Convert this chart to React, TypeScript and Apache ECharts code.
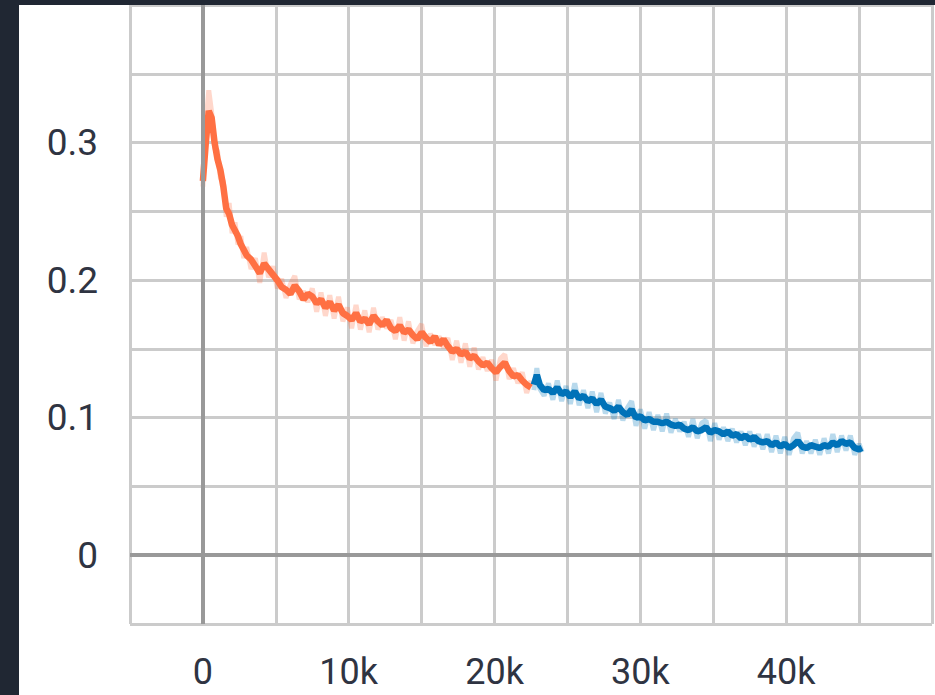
import React, { useEffect, useRef } from "react";
import * as echarts from "echarts";

const orangeSteps = [
  0, 200, 400, 600, 800, 1000, 1200, 1400, 1600, 1800, 2000, 2200, 2400, 2600, 2800, 3000,
  3300, 3600, 3900, 4200, 4500, 4800, 5100, 5400, 5700, 6000,
  6300, 6600, 6900, 7200, 7500, 7800, 8100, 8400, 8700, 9000,
  9300, 9600, 9900, 10200, 10500, 10800, 11100, 11400, 11700, 12000,
  12300, 12600, 12900, 13200, 13500, 13800, 14100, 14400, 14700, 15000,
  15300, 15600, 15900, 16200, 16500, 16800, 17100, 17400, 17700, 18000,
  18300, 18600, 18900, 19200, 19500, 19800, 20100, 20400, 20700, 21000,
  21300, 21600, 21900, 22200, 22500,
];
const orangeSmoothed = [
  0.272, 0.300, 0.323, 0.318, 0.300, 0.288, 0.280, 0.268, 0.252, 0.248, 0.240, 0.236, 0.232, 0.226, 0.222, 0.218,
  0.215, 0.210, 0.205, 0.212, 0.208, 0.204, 0.200, 0.195, 0.193, 0.190,
  0.196, 0.192, 0.186, 0.190, 0.188, 0.183, 0.186, 0.180, 0.184, 0.178,
  0.182, 0.176, 0.174, 0.171, 0.176, 0.170, 0.172, 0.168, 0.174, 0.170,
  0.167, 0.171, 0.165, 0.163, 0.167, 0.162, 0.164, 0.160, 0.157, 0.162,
  0.158, 0.155, 0.159, 0.153, 0.157, 0.152, 0.148, 0.150, 0.146, 0.148,
  0.143, 0.145, 0.141, 0.138, 0.140, 0.136, 0.133, 0.137, 0.140, 0.134,
  0.130, 0.131, 0.127, 0.124, 0.122,
];
const orangeRaw = [
  0.268, 0.312, 0.338, 0.322, 0.296, 0.294, 0.274, 0.272, 0.246, 0.256, 0.234, 0.242, 0.226, 0.232, 0.216, 0.224,
  0.208, 0.216, 0.198, 0.220, 0.202, 0.210, 0.194, 0.201, 0.187, 0.197,
  0.203, 0.186, 0.192, 0.184, 0.194, 0.177, 0.191, 0.174, 0.189, 0.172,
  0.188, 0.170, 0.180, 0.165, 0.182, 0.164, 0.178, 0.162, 0.180, 0.164,
  0.173, 0.165, 0.171, 0.157, 0.173, 0.156, 0.170, 0.154, 0.163, 0.168,
  0.152, 0.161, 0.153, 0.159, 0.151, 0.158, 0.142, 0.156, 0.140, 0.154,
  0.137, 0.151, 0.135, 0.144, 0.134, 0.142, 0.127, 0.143, 0.146, 0.128,
  0.136, 0.125, 0.133, 0.118, 0.127,
];

const blueSteps = [
  22700, 22900, 23100,
  23400, 23700, 24000, 24300, 24600, 24900, 25200, 25500, 25800, 26100,
  26400, 26700, 27000, 27300, 27600, 27900, 28200, 28500, 28800, 29100,
  29400, 29700, 30000, 30300, 30600, 30900, 31200, 31500, 31800, 32100,
  32400, 32700, 33000, 33300, 33600, 33900, 34200, 34500, 34800, 35100,
  35400, 35700, 36000, 36300, 36600, 36900, 37200, 37500, 37800, 38100,
  38400, 38700, 39000, 39300, 39600, 39900, 40200, 40500, 40800, 41100,
  41400, 41700, 42000, 42300, 42600, 42900, 43200, 43500, 43800, 44100,
  44400, 44700, 45000, 45200,
];
const blueSmoothed = [
  0.124, 0.131, 0.124,
  0.120, 0.121, 0.118, 0.122, 0.117, 0.119, 0.115, 0.119, 0.114, 0.116,
  0.112, 0.114, 0.110, 0.113, 0.108, 0.107, 0.105, 0.108, 0.104, 0.102,
  0.106, 0.100, 0.101, 0.098, 0.099, 0.097, 0.097, 0.096, 0.097, 0.095,
  0.094, 0.095, 0.092, 0.091, 0.093, 0.090, 0.091, 0.093, 0.089, 0.091,
  0.090, 0.088, 0.090, 0.087, 0.088, 0.085, 0.087, 0.084, 0.086, 0.083,
  0.082, 0.083, 0.080, 0.082, 0.079, 0.081, 0.078, 0.080, 0.083, 0.079,
  0.078, 0.080, 0.079, 0.078, 0.080, 0.079, 0.082, 0.080, 0.083, 0.081,
  0.082, 0.078, 0.077, 0.078,
];
const blueRaw = [
  0.120, 0.136, 0.121,
  0.116, 0.125, 0.113, 0.127, 0.112, 0.123, 0.110, 0.125, 0.109, 0.120,
  0.107, 0.119, 0.104, 0.118, 0.103, 0.111, 0.099, 0.113, 0.098, 0.107,
  0.112, 0.094, 0.106, 0.092, 0.104, 0.091, 0.102, 0.090, 0.103, 0.089,
  0.099, 0.090, 0.097, 0.086, 0.099, 0.085, 0.096, 0.098, 0.083, 0.096,
  0.084, 0.093, 0.083, 0.092, 0.082, 0.090, 0.080, 0.090, 0.079, 0.088,
  0.077, 0.088, 0.075, 0.087, 0.074, 0.086, 0.073, 0.085, 0.089, 0.074,
  0.083, 0.074, 0.084, 0.073, 0.085, 0.074, 0.088, 0.075, 0.087, 0.076,
  0.087, 0.073, 0.081, 0.075,
];

const xLabelValues = [0, 10000, 20000, 30000, 40000];
const yLabelValues = [0, 0.1, 0.2, 0.3];

const zip = (xs: number[], ys: number[]) => xs.map((x, i) => [x, ys[i]]);

export default function App() {
  const ref = useRef<HTMLDivElement>(null);
  useEffect(() => {
    if (!ref.current) return;
    const chart = echarts.init(ref.current, undefined, { renderer: "svg" });
    const gridColor = "#cbcbcb";
    const labelStyle = {
      color: "#2f3442",
      fontFamily: "Roboto, 'Noto Sans', sans-serif",
      fontSize: 37,
    };
    chart.setOption({
      animation: false,
      grid: { left: 111, top: -1, width: 808, height: 620, containLabel: false },
      xAxis: {
        type: "value",
        min: -5000,
        max: 50000,
        interval: 5000,
        axisLine: { show: false },
        axisTick: { show: true, length: 17, lineStyle: { color: gridColor, width: 3 } },
        splitLine: { show: true, lineStyle: { color: gridColor, width: 3 } },
        axisLabel: {
          ...labelStyle,
          fontSize: 36,
          lineHeight: 32,
          margin: 32,
          showMinLabel: true,
          showMaxLabel: true,
          formatter: (v: number) =>
            xLabelValues.includes(Math.round(v)) ? (v === 0 ? "0" : `${Math.round(v / 1000)}k`) : "",
        },
      },
      yAxis: {
        type: "value",
        min: -0.05,
        max: 0.4,
        interval: 0.05,
        axisLine: { show: false },
        axisTick: { show: true, length: 17, lineStyle: { color: gridColor, width: 3 } },
        splitLine: { show: true, lineStyle: { color: gridColor, width: 3 } },
        axisLabel: {
          ...labelStyle,
          margin: 32,
          formatter: (v: number) => {
            const r = Math.round(v * 10) / 10;
            const hit = yLabelValues.some((y) => Math.abs(y - v) < 1e-6);
            return hit ? (r === 0 ? "0" : r.toFixed(1)) : "";
          },
        },
      },
      series: [
        {
          type: "line",
          data: [],
          z: 1,
          markLine: {
            silent: true,
            symbol: "none",
            label: { show: false },
            lineStyle: { color: "#999999", width: 4, type: "solid" },
            data: [{ xAxis: 0 }, { yAxis: 0 }],
          },
        },
        {
          type: "line",
          data: zip(orangeSteps, orangeRaw),
          showSymbol: false,
          z: 2,
          lineStyle: { color: "rgba(255,112,67,0.28)", width: 5 },
        },
        {
          type: "line",
          data: zip(blueSteps, blueRaw),
          showSymbol: false,
          z: 2,
          lineStyle: { color: "rgba(0,119,187,0.28)", width: 5 },
        },
        {
          type: "line",
          data: zip(orangeSteps, orangeSmoothed),
          showSymbol: false,
          z: 3,
          lineStyle: { color: "#ff7043", width: 6.5 },
        },
        {
          type: "line",
          data: zip(blueSteps, blueSmoothed),
          showSymbol: false,
          z: 3,
          lineStyle: { color: "#0072b8", width: 6.5 },
        },
      ],
    });
    return () => chart.dispose();
  }, []);
  return (
    <div
      style={{
        position: "fixed",
        left: 0,
        top: 0,
        width: 935,
        height: 695,
        background: "#202733",
        overflow: "hidden",
      }}
    >
      <div
        ref={ref}
        style={{
          position: "absolute",
          left: 19,
          top: 5,
          width: 916,
          height: 690,
          background: "#ffffff",
        }}
      />
    </div>
  );
}
